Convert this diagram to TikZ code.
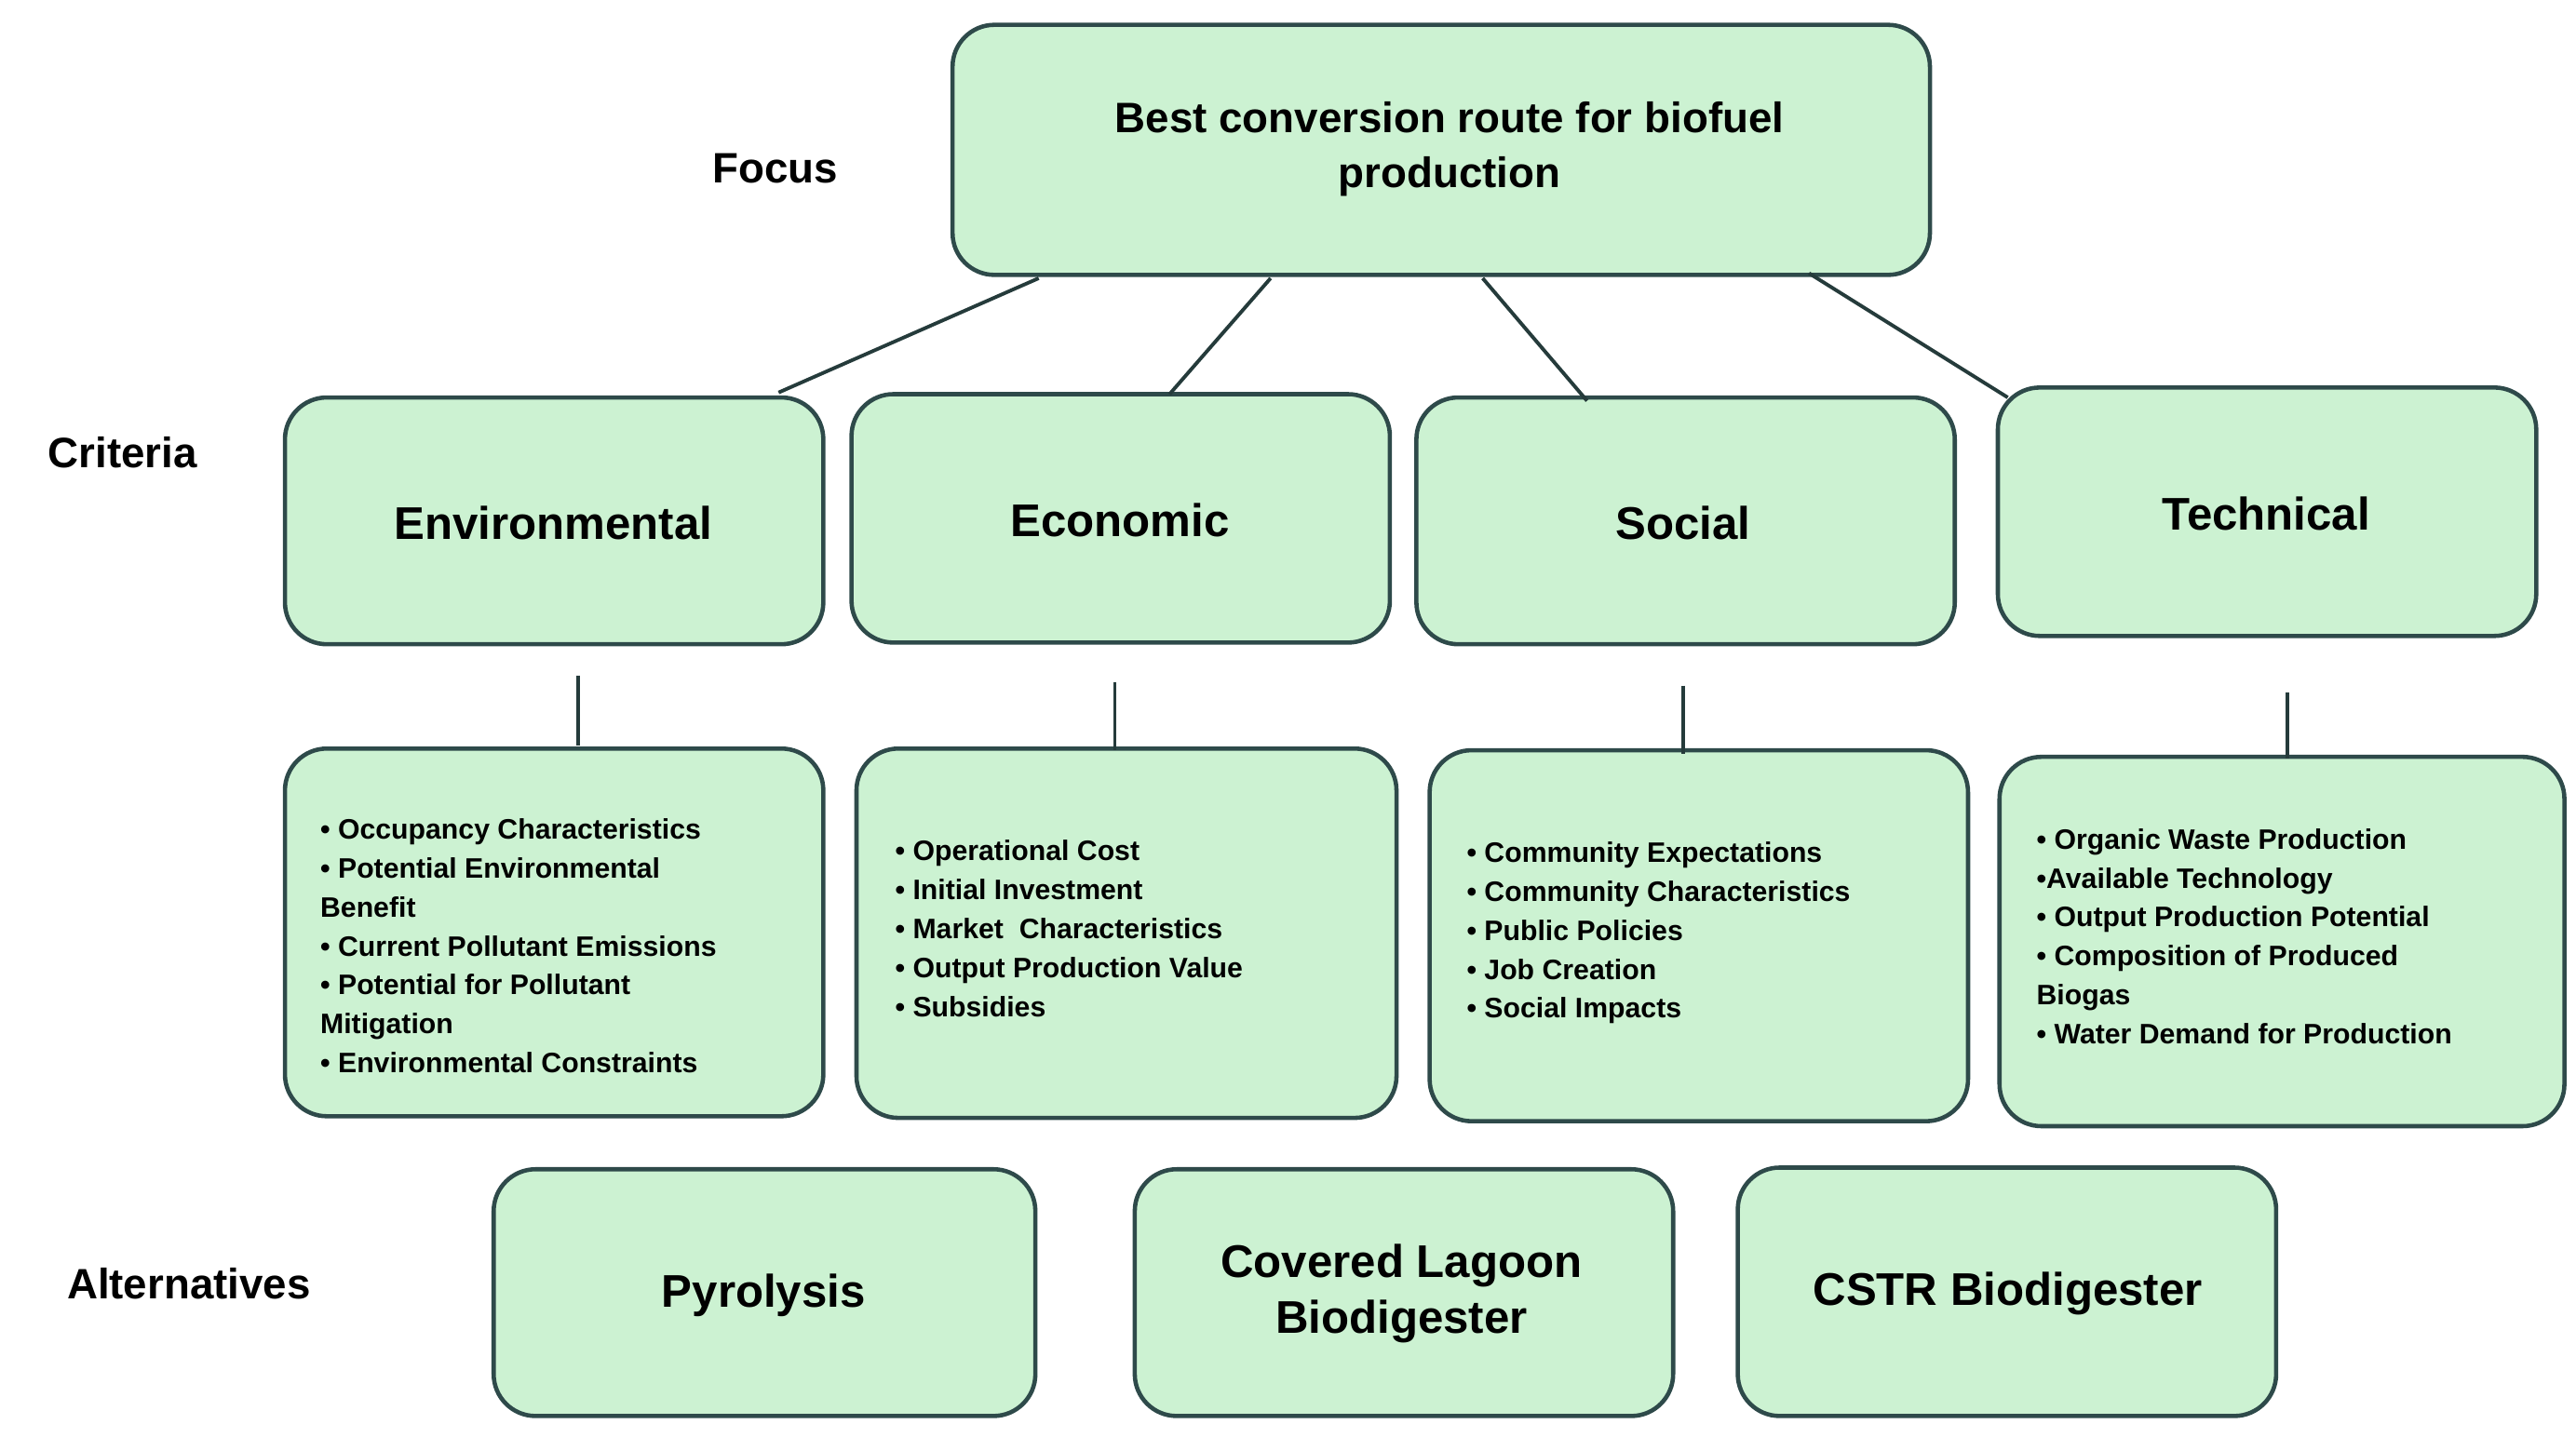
\documentclass[tikz,border=0pt]{standalone}
\usepackage{fontspec}
\setmainfont{Liberation Sans}
\definecolor{boxfill}{HTML}{CCF2D2}
\definecolor{boxline}{HTML}{2E4A4A}
\begin{document}
\begin{tikzpicture}[x=0.01779cm,y=-0.01779cm,
  box/.style={draw=boxline,line width=1.3pt,fill=boxfill,rounded corners=0.45cm,inner sep=0pt},
  title/.style={font=\bfseries\fontsize{14}{17}\selectfont,align=center},
  ftitle/.style={font=\bfseries\fontsize{13}{17}\selectfont,align=center},
  lbl/.style={font=\bfseries\fontsize{13}{15}\selectfont},
  lst/.style={font=\bfseries\fontsize{8.6}{11.9}\selectfont,align=left,anchor=north west,inner sep=0pt},
  conn/.style={draw=boxline!80!black,line width=1.1pt}]
\useasboundingbox (0,0) rectangle (1555,876);
% boxes
\draw[box] (575,15) rectangle (1165,166);
\node[ftitle] (focus) at (875,90) {Best conversion route for biofuel\\production};
\draw[box] (172,240) rectangle (497,389); \node[title] (env) at (334,316) {Environmental};
\draw[box] (514,238) rectangle (839,388); \node[title] (eco) at (676,314) {Economic};
\draw[box] (855,240) rectangle (1180,389); \node[title] (soc) at (1016,316) {Social};
\draw[box] (1206,234) rectangle (1531,384); \node[title] (tec) at (1368,310) {Technical};
\draw[box] (172,452) rectangle (497,674);
\draw[box] (517,452) rectangle (843,675);
\draw[box] (863,453) rectangle (1188,677);
\draw[box] (1207,457) rectangle (1548,680);
\draw[box] (298,706) rectangle (625,855); \node[title] (pyr) at (461,782) {Pyrolysis};
\draw[box] (685,706) rectangle (1010,855); \node[title] (cov) at (846,781) {Covered Lagoon\\Biodigester};
\draw[box] (1049,705) rectangle (1374,855); \node[title] (cstr) at (1212,781) {CSTR Biodigester};
% labels
\node[lbl] (lf) at (468,102) {Focus};
\node[lbl] (lc) at (74,273) {Criteria};
\node[lbl] (la) at (114,775) {Alternatives};
% lists
\node[lst] (l1) at (193,494) {• Occupancy Characteristics\\• Potential Environmental\\Benefit\\• Current Pollutant Emissions\\• Potential for Pollutant\\Mitigation\\• Environmental Constraints};
\node[lst] (l2) at (540,507) {• Operational Cost\\• Initial Investment\\• Market\ \ Characteristics\\• Output Production Value\\• Subsidies};
\node[lst] (l3) at (885,508) {• Community Expectations\\• Community Characteristics\\• Public Policies\\• Job Creation\\• Social Impacts};
\node[lst] (l4) at (1229,500) {• Organic Waste Production\\•Available Technology\\• Output Production Potential\\• Composition of Produced\\Biogas\\• Water Demand for Production};
% connectors
\coordinate (f1) at (627,168); \coordinate (e1) at (470,237);
\coordinate (f2) at (767,168); \coordinate (e2) at (706,238);
\coordinate (f3) at (895,168); \coordinate (e3) at (958,242);
\coordinate (f4) at (1092,165); \coordinate (e4) at (1212,240);
\draw[conn] (f1)--(e1); \draw[conn] (f2)--(e2); \draw[conn] (f3)--(e3); \draw[conn] (f4)--(e4);
\coordinate (v1a) at (349,408); \coordinate (v1b) at (349,450);
\coordinate (v2a) at (673,412); \coordinate (v2b) at (673,453);
\coordinate (v3a) at (1016,414); \coordinate (v3b) at (1016,455);
\coordinate (v4a) at (1381,418); \coordinate (v4b) at (1381,458);
\draw[conn] (v1a)--(v1b); \draw[conn] (v2a)--(v2b); \draw[conn] (v3a)--(v3b); \draw[conn] (v4a)--(v4b);
\end{tikzpicture}
\end{document}
